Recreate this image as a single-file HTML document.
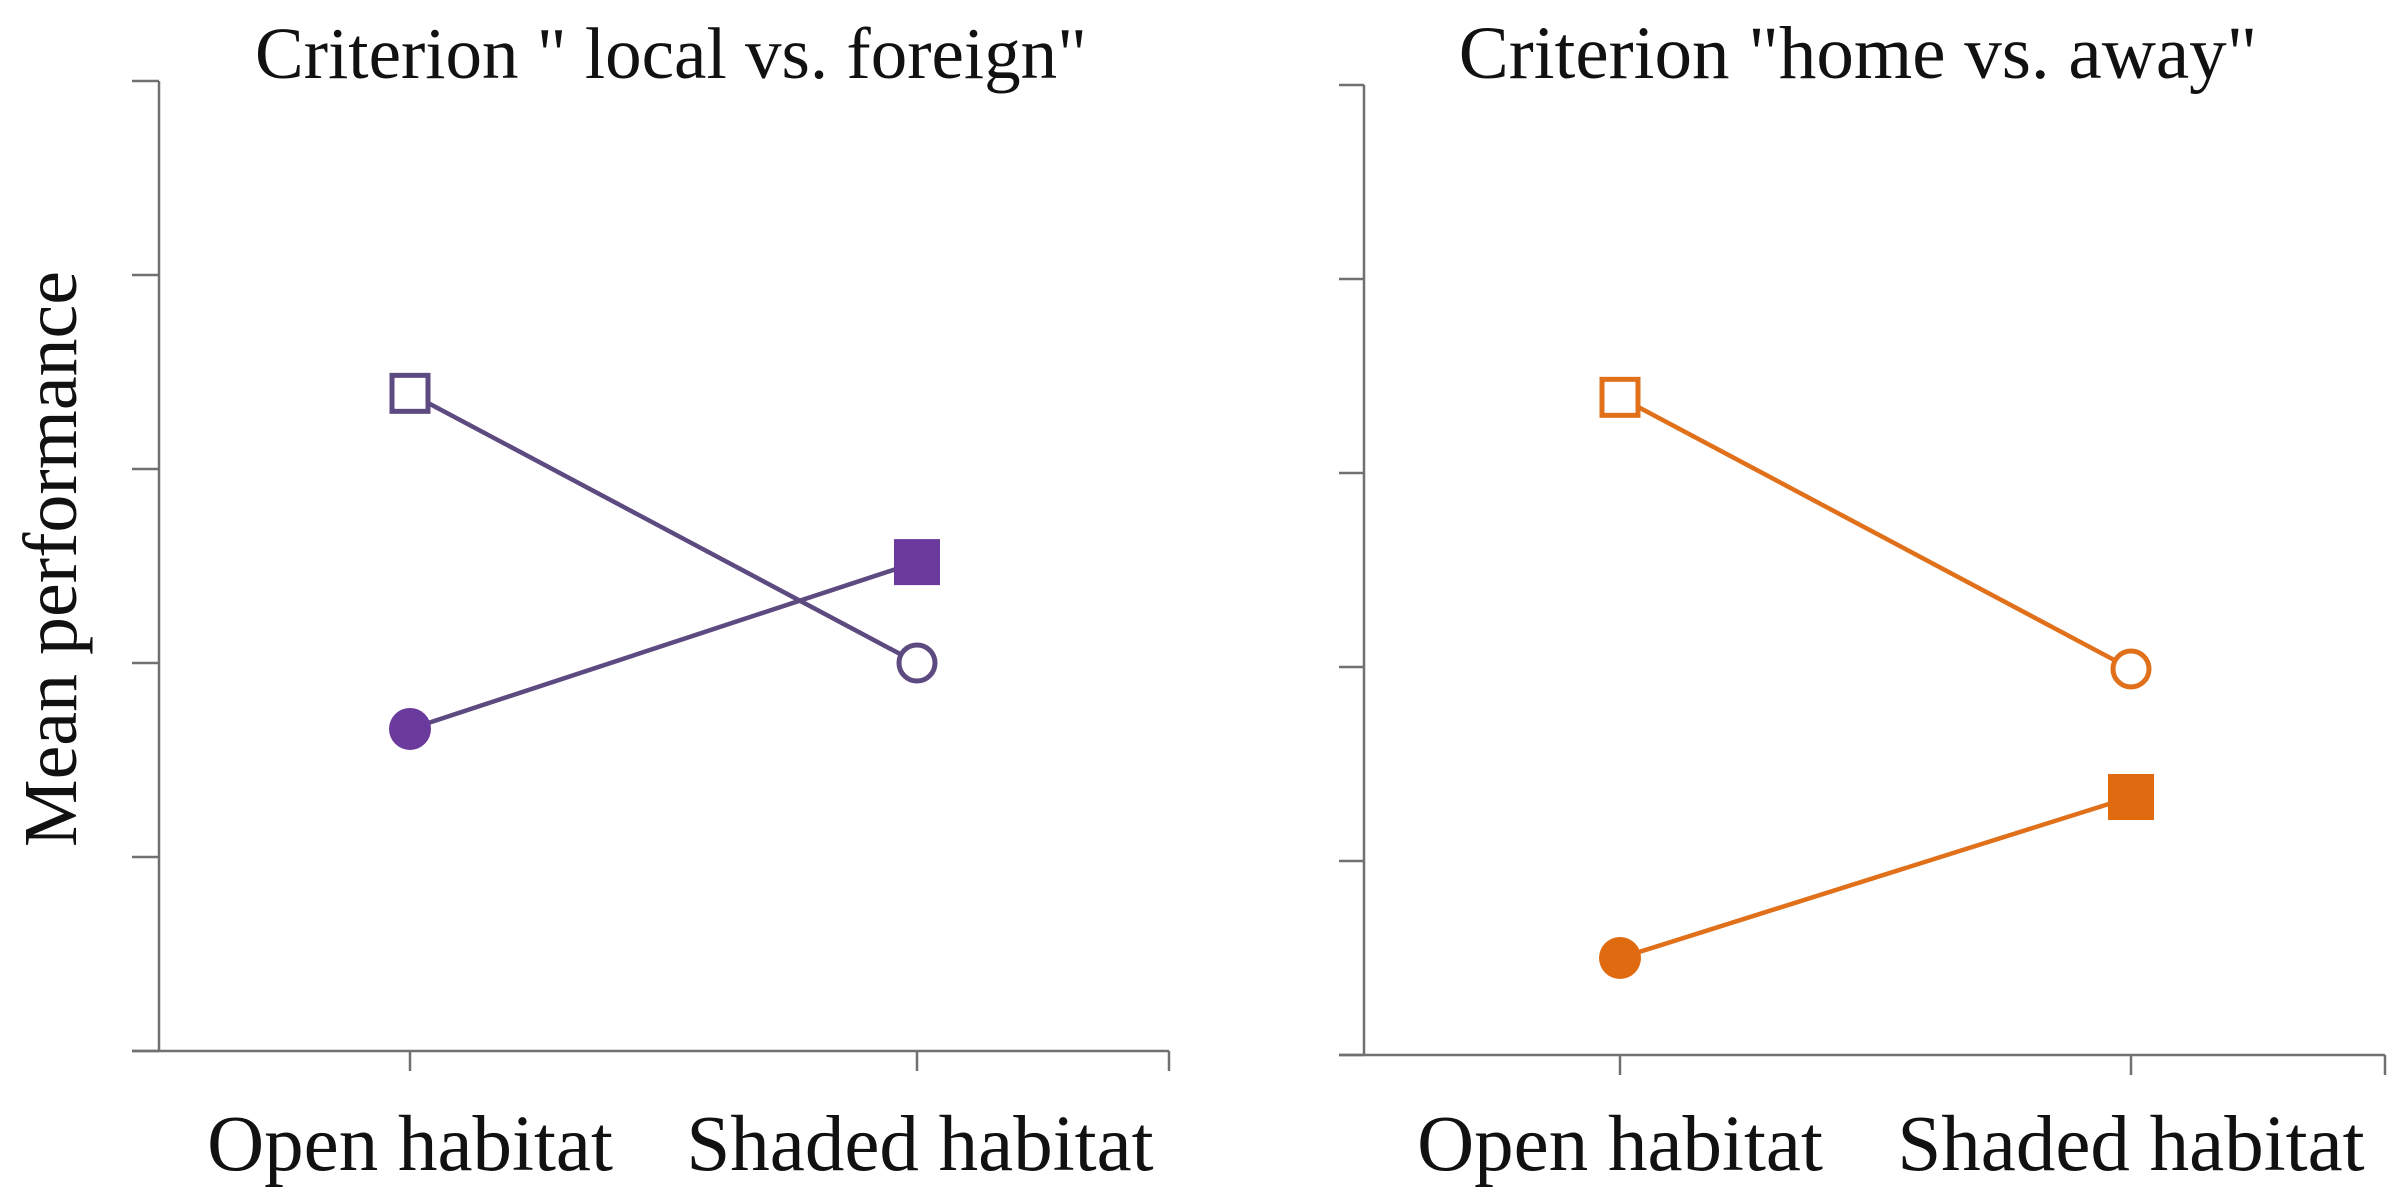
<!DOCTYPE html>
<html><head><meta charset="utf-8"><style>
html,body{margin:0;padding:0;background:#fff;}
svg text{font-family:"Liberation Serif",serif;fill:#111;}
</style></head><body>
<svg id="c" width="2387" height="1189" viewBox="0 0 2387 1189" xmlns="http://www.w3.org/2000/svg"></svg>
<script>
const categories = ["Open habitat", "Shaded habitat"];
const leftOpenSeries = [3.39, 2.0];
const leftFilledSeries = [1.66, 2.52];
const rightOpenSeries = [3.39, 1.99];
const rightFilledSeries = [0.5, 1.33];
const yTicks = [0, 1, 2, 3, 4, 5];
const titles = ['Criterion " local vs. foreign"', 'Criterion "home vs. away"'];

const svg = document.getElementById('c');
const NS = 'http://www.w3.org/2000/svg';
function mk(tag, attrs, parent) {
  const e = document.createElementNS(NS, tag);
  for (const k in attrs) e.setAttribute(k, attrs[k]);
  (parent || svg).appendChild(e);
  return e;
}
const panels = [
  {name:'left', axisX:159, tickL:132, top:81, bottom:1051, right:1169, xs:[410,917], color:'#5c4a80', fill:'#6a3a9c', open:leftOpenSeries, filled:leftFilledSeries, title:titles[0], tcx:671, tfs:73, lab:[410,920]},
  {name:'right', axisX:1364, tickL:1339, top:85, bottom:1055, right:2385, xs:[1620,2131], color:'#e0701a', fill:'#e06a10', open:rightOpenSeries, filled:rightFilledSeries, title:titles[1], tcx:1858, tfs:75, lab:[1620,2131]}
];
panels.forEach(p => {
  const g = mk('g', {});
  
  
  const y = v => p.bottom - (v - yTicks[0]) / (yTicks[yTicks.length-1] - yTicks[0]) * (p.bottom - p.top);
  const ax = '#707070';
  const ya = mk('line', {x1:p.axisX, y1:p.top, x2:p.axisX, y2:p.bottom, stroke:ax, 'stroke-width':2.5}, g);
  
  
  yTicks.forEach(t => {
    const tk = mk('line', {x1:p.tickL, y1:y(t), x2:p.axisX, y2:y(t), stroke:ax, 'stroke-width':2.5}, g);
    
    
  });
  const xa = mk('line', {x1:p.tickL, y1:p.bottom, x2:p.right, y2:p.bottom, stroke:ax, 'stroke-width':2.5}, g);
  
  
  const et = mk('line', {x1:p.right, y1:p.bottom, x2:p.right, y2:p.bottom+20, stroke:ax, 'stroke-width':2.5}, g);
  
  
  categories.forEach((c, i) => {
    const tk = mk('line', {x1:p.xs[i], y1:p.bottom, x2:p.xs[i], y2:p.bottom+20, stroke:ax, 'stroke-width':2.5}, g);
    
    
    const t = mk('text', {x:p.lab[i], y:1170, 'font-size':79, 'text-anchor':'middle'}, g);
    t.textContent = c;
    
    
  });
  const tt = mk('text', {x:p.tcx, y:78, 'font-size':p.tfs, 'text-anchor':'middle'}, g);
  tt.textContent = p.title;
  
  
  const l1 = mk('line', {x1:p.xs[0], y1:y(p.open[0]), x2:p.xs[1], y2:y(p.open[1]), stroke:p.color, 'stroke-width':4.5}, g);
  
  
  const l2 = mk('line', {x1:p.xs[0], y1:y(p.filled[0]), x2:p.xs[1], y2:y(p.filled[1]), stroke:p.color, 'stroke-width':4.5}, g);
  
  
  const s = 36;
  const m1 = mk('rect', {x:p.xs[0]-s/2, y:y(p.open[0])-s/2, width:s, height:s, fill:'#fff', stroke:p.color, 'stroke-width':5}, g);
  
  
  const m2 = mk('circle', {cx:p.xs[1], cy:y(p.open[1]), r:18, fill:'#fff', stroke:p.color, 'stroke-width':5}, g);
  
  
  const m3 = mk('circle', {cx:p.xs[0], cy:y(p.filled[0]), r:21, fill:p.fill}, g);
  
  
  const m4 = mk('rect', {x:p.xs[1]-23, y:y(p.filled[1])-23, width:46, height:46, fill:p.fill}, g);
  
  
});
const yl = mk('text', {x:0, y:0, 'font-size':76, 'text-anchor':'middle', transform:'translate(76,559) rotate(-90)'});
yl.textContent = 'Mean performance';


</script>
</body></html>
